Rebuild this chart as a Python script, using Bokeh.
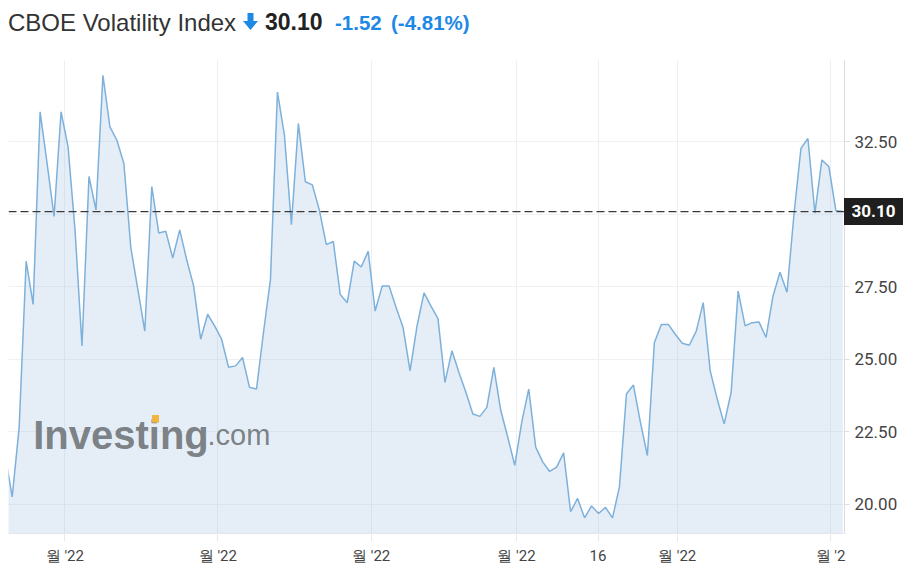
from bokeh.plotting import figure
from bokeh.models import FixedTicker, Span, Label, BoxAnnotation, Div, PrintfTickFormatter, ColumnDataSource
from bokeh.layouts import column
from bokeh.embed import file_html
from bokeh.resources import INLINE

# ---- data ----
values = [
    21.70,
    20.26, 22.67, 28.39, 26.90, 33.54, 31.76, 29.93, 33.54, 32.34, 29.47,
    25.47, 31.31, 30.16, 34.80, 33.02, 32.56, 31.76, 28.85, 27.42, 25.98,
    30.96, 29.36, 29.42, 28.50, 29.47, 28.44, 27.53, 25.70, 26.56, 26.16,
    25.70, 24.73, 24.78, 25.07, 24.04, 23.98, 25.93, 27.76, 34.22, 32.74,
    29.65, 33.14, 31.13, 31.02, 30.16, 28.96, 29.07, 27.24, 26.96, 28.39,
    28.19, 28.73, 26.67, 27.53, 27.53, 26.79, 26.10, 24.61, 26.16, 27.30,
    26.84, 26.41, 24.21, 25.30, 24.55, 23.87, 23.12, 23.04, 23.35, 24.73,
    23.24, 22.32, 21.35, 22.84, 23.98, 21.98, 21.47, 21.14, 21.29, 21.78,
    19.75, 20.21, 19.54, 19.95, 19.69, 19.90, 19.54, 20.61, 23.81, 24.12,
    22.84, 21.69, 25.58, 26.21, 26.21, 25.87, 25.56, 25.49, 25.98, 26.96,
    24.61, 23.64, 22.78, 23.87, 27.36, 26.16, 26.27, 26.29, 25.76, 27.19,
    28.01, 27.32, 30.00, 32.28, 32.62, 30.05, 31.88, 31.65, 30.14, 30.10,
]
x_tick_pos = [8.54, 30.46, 52.43, 73.25, 84.93, 96.27, 118.23]
x_tick_labels = ["월 '22", "월 '22", "월 '22", "월 '22", "16", "월 '22", "월 '2"]
y_ticks = [20.0, 22.5, 25.0, 27.5, 30.0, 32.5]
last_price = 30.10
change = -1.52
change_pct = -4.81
title_text = "CBOE Volatility Index"

idx = list(range(len(values)))
src = ColumnDataSource(dict(x=idx, y=values, base=[0.0] * len(values)))

BLUE = "#1e88e5"

# ---- header ----
arrow_svg = ('<svg width="15" height="17" style="position:absolute;left:235px;top:5px">'
             '<polygon points="4.5,0 10.5,0 10.5,8 15,8 7.5,17 0,8 4.5,8" fill="%s"/></svg>' % BLUE)
html = (
    '<div style="position:relative;width:907px;height:44px;font-family:\'Liberation Sans\',Arial,sans-serif;">'
    f'<span style="position:absolute;left:0px;top:2.5px;font-size:24px;line-height:24px;color:#333;white-space:nowrap">{title_text}</span>'
    + arrow_svg +
    f'<span style="position:absolute;left:257px;top:3px;font-size:23px;line-height:23px;font-weight:bold;color:#222;white-space:nowrap">{last_price:.2f}</span>'
    f'<span style="position:absolute;left:327px;top:4.5px;font-size:20.5px;line-height:20.5px;font-weight:bold;color:{BLUE};white-space:nowrap">{change:.2f}</span>'
    f'<span style="position:absolute;left:383px;top:4.5px;font-size:20.5px;line-height:20.5px;font-weight:bold;color:{BLUE};white-space:nowrap">({change_pct:.2f}%)</span>'
    '</div>'
)
header = Div(text=html, width=907, height=44, margin=(0, 0, 0, 0))

# ---- chart ----
p = figure(width=907, height=515, x_range=(0.47, 120.24), y_range=(19.0, 35.31),
           y_axis_location="right", toolbar_location=None, output_backend="svg",
           min_border_left=0, min_border_right=71, min_border_top=8, min_border_bottom=30,
           margin=(0, 0, 0, 0))
p.outline_line_color = None
p.background_fill_color = "white"

p.varea(x="x", y1="base", y2="y", source=src, fill_color="#a9c8e6", fill_alpha=0.3)
p.line(x="x", y="y", source=src, line_color="#7db1db", line_width=1.5)

p.xaxis.ticker = FixedTicker(ticks=x_tick_pos)
p.xaxis.major_label_overrides = {t: l for t, l in zip(x_tick_pos, x_tick_labels)}
p.xaxis.minor_tick_line_color = None
p.xaxis.major_tick_out = 8
p.xaxis.major_tick_in = 0
p.xaxis.major_tick_line_color = "#e6e9ee"
p.xaxis.axis_line_color = "#e3e6ea"
p.xaxis.major_label_standoff = 5
p.xaxis.major_label_text_font = "Roboto"
p.xaxis.major_label_text_font_size = "15px"
p.xaxis.major_label_text_color = "#444444"

p.yaxis.ticker = FixedTicker(ticks=y_ticks)
p.yaxis.formatter = PrintfTickFormatter(format="%.2f")
p.yaxis.major_label_overrides = {30: ""}
p.yaxis.minor_tick_line_color = None
p.yaxis.major_tick_out = 5
p.yaxis.major_tick_in = 0
p.yaxis.major_tick_line_color = "#dcdfe4"
p.yaxis.axis_line_color = "#d9dce1"
p.yaxis.major_label_standoff = 5
p.yaxis.major_label_text_font = "Roboto"
p.yaxis.major_label_text_font_size = "17px"
p.yaxis.major_label_text_color = "#444444"

p.xgrid.grid_line_color = "#eceef2"
p.ygrid.grid_line_color = "#f0f1f3"

# last price dashed line
p.add_layout(Span(location=last_price, dimension="width", line_color="#3a3a3a",
                  line_width=1.2, line_dash="8 4"))

# watermark
p.add_layout(Label(x=24.7, y=99, x_units="screen", y_units="screen", text="Investing",
                   text_font="Liberation Sans", text_font_size="40px", text_font_style="bold",
                   text_color="#6f7378", text_alpha=0.9, text_baseline="alphabetic"))
p.add_layout(Label(x=199, y=99, x_units="screen", y_units="screen", text=".com",
                   text_font="Liberation Sans", text_font_size="29px",
                   text_color="#6f7378", text_alpha=0.9, text_baseline="alphabetic"))
p.add_layout(BoxAnnotation(left=143.5, right=150.5, bottom=111, top=118.5,
                           left_units="screen", right_units="screen",
                           bottom_units="screen", top_units="screen",
                           fill_color="#f3b541", fill_alpha=1.0, line_color=None))

# last price marker on the price axis (overlaid box)
marker_html = ('<div style="position:relative;z-index:10;width:59px;height:27px;background:#1f1f1f;'
               'color:#ffffff;font-family:Roboto,Arial,sans-serif;font-weight:bold;font-size:17px;'
               f'line-height:27px;text-align:center;">{last_price:.2f}</div>')
marker = Div(text=marker_html, width=59, height=27, margin=(-369, 0, 0, 836),
             styles={"position": "relative", "z-index": "10"})

layout = column(header, p, marker, spacing=0, margin=(8, 0, 0, 8))
open("out.html", "w").write(file_html(layout, INLINE))
